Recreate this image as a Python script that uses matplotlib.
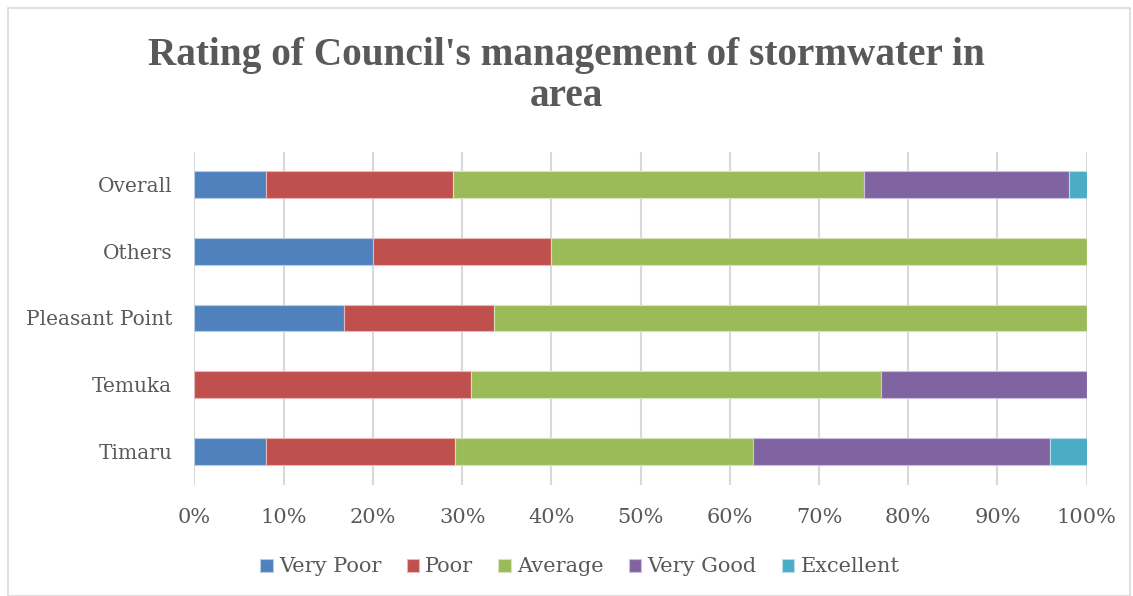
import matplotlib
matplotlib.use("Agg")
import matplotlib.pyplot as plt
from matplotlib.patches import Rectangle
import numpy as np

categories = ["Timaru", "Temuka", "Pleasant Point", "Others", "Overall"]
series_names = ["Very Poor", "Poor", "Average", "Very Good", "Excellent"]
very_poor = [8.0, 0.0, 16.8, 20.0, 8.0]
poor = [21.2, 31.0, 16.8, 20.0, 21.0]
average = [33.4, 46.0, 66.4, 60.0, 46.0]
very_good = [33.3, 23.0, 0.0, 0.0, 23.0]
excellent = [4.1, 0.0, 0.0, 0.0, 2.0]
tick_labels = ["0%", "10%", "20%", "30%", "40%", "50%", "60%", "70%", "80%", "90%", "100%"]
title = "Rating of Council's management of stormwater in\narea"

colors = ["#4F81BD", "#C0504D", "#9BBB59", "#8064A2", "#4BACC6"]
edge_colors = ["#b9cde5", "#e6b9b8", "#d7e4bd", "#ccc1da", "#b7dee8"]
text_color = "#595959"
font = "DejaVu Serif"

fig = plt.figure(figsize=(11.33, 5.96), dpi=100)
ax = fig.add_axes([194.5 / 1133, 1 - 484.5 / 596, (1086.7 - 194.5) / 1133, (484.5 - 151.5) / 596])

y = np.arange(len(categories))
left = np.zeros(len(categories))
for name, vals, c, ec in zip(series_names, [very_poor, poor, average, very_good, excellent], colors, edge_colors):
    vals = np.array(vals)
    ax.barh(y, vals, left=left, height=0.4, color=c, edgecolor=ec, linewidth=0.8, label=name, zorder=3)
    left += vals

ax.set_xlim(0, 100)
ax.set_ylim(-0.5, len(categories) - 0.5)
ax.set_xticks(np.arange(0, 101, 10))
ax.set_xticklabels(tick_labels, family=font, fontsize=15, color=text_color)
ax.set_yticks(y)
ax.set_yticklabels(categories, family=font, fontsize=14.5, color=text_color)
ax.tick_params(axis="y", length=0, pad=16)
ax.tick_params(axis="x", length=0, pad=17)
ax.grid(axis="x", color="#d9d9d9", linewidth=1.5, zorder=0)
for s in ax.spines.values():
    s.set_visible(False)

fig.text(0.5, 1 - 76 / 596, title, ha="center", va="center", family="Liberation Serif", fontsize=28.3,
         fontweight="bold", color=text_color, linespacing=1.17)

leg = fig.legend(loc="center", bbox_to_anchor=(580 / 1133, 1 - 567 / 596), ncol=5, frameon=False,
                 prop={"family": font, "size": 15}, handlelength=0.6, handleheight=0.6,
                 handletextpad=0.3, columnspacing=1.2)
for t in leg.get_texts():
    t.set_color(text_color)

fig.patches.append(Rectangle((8 / 1133, 0), 1122 / 1133, 1 - 8 / 596, transform=fig.transFigure,
                             fill=False, edgecolor="#d9d9d9", linewidth=1.2))

fig.savefig("out.png", dpi=100)
